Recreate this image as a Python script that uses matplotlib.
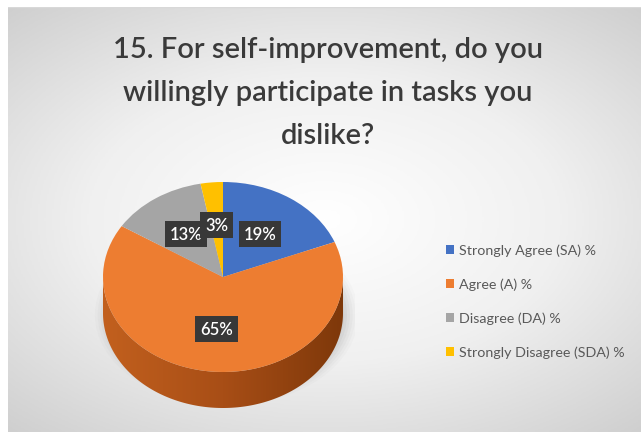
import numpy as np
import matplotlib
matplotlib.use("Agg")
import matplotlib.pyplot as plt
from matplotlib.colors import LinearSegmentedColormap
from matplotlib.patches import Polygon, Ellipse

# Survey answers, in percent
categories = ["Strongly Agree (SA) %", "Agree (A) %", "Disagree (DA) %", "Strongly Disagree (SDA) %"]
values = [19, 65, 13, 3]
colors = ["#4472C4", "#ED7D31", "#A5A5A5", "#FFC000"]
title_lines = ["15. For self-improvement, do you",
               "willingly participate in tasks you",
               "dislike?"]

W, H = 641, 439
fig = plt.figure(figsize=(W / 100, H / 100), dpi=100)
fig.patch.set_facecolor("white")

# Background panel with a soft radial gradient
bg = fig.add_axes([8 / W, 6 / H, (W - 8) / W, (H - 14) / H])
bg.set_axis_off()
yy, xx = np.mgrid[-1:1:300j, -1:1:400j]
r = np.sqrt((xx * 0.9) ** 2 + (yy * 1.0) ** 2)
bg_cmap = LinearSegmentedColormap.from_list("bg", ["#ffffff", "#f0f0f0", "#cfcfcf"])
bg.imshow(r, cmap=bg_cmap, aspect="auto", extent=[0, 1, 0, 1], vmin=0, vmax=1.35)
bg.plot([0, 1], [1, 1], color="#d8d8d8", lw=1, transform=bg.transAxes)

# Title, one line per baseline
for i, line in enumerate(title_lines):
    fig.text(328 / W, 1 - (58 + 43 * i) / H, line, ha="center", va="baseline",
             fontsize=21, family="Lato", fontweight="semibold", color="#3a3a3a")

# Pie axes: unit circle stretched into an ellipse, with an extruded rim
rx, ry, depth = 120, 95, 36
cx, cy = 223, 278
x0, x1 = -1.1, 1.1
y0, y1 = -1.0 - depth / ry - 0.15, 1.05
ax = fig.add_axes([(cx + x0 * rx) / W, (H - cy + y0 * ry) / H,
                   (x1 - x0) * rx / W, (y1 - y0) * ry / H])
ax.set_axis_off()

wedges, _ = ax.pie(values, colors=colors, startangle=90, counterclock=False,
                   radius=1, wedgeprops=dict(linewidth=0))
ax.set_aspect("auto")
ax.set_xlim(x0, x1)
ax.set_ylim(y0, y1)

d = depth / ry
# soft shadow under the pie
for k, a in zip(np.linspace(1.12, 1.0, 6), [0.03, 0.04, 0.05, 0.06, 0.07, 0.08]):
    ax.add_patch(Ellipse((0.03, -d - 0.02), 2 * k * 0.98, 2 * k * 0.85,
                         facecolor="#7a7a7a", edgecolor="none", alpha=a, zorder=0.2))

# rim of the front half (all within the largest slice)
t = np.linspace(np.pi, 2 * np.pi, 200)
top = np.column_stack([np.cos(t), np.sin(t)])
bot = np.column_stack([np.cos(t[::-1]), np.sin(t[::-1]) - d])
rim = Polygon(np.vstack([top, bot]), closed=True, facecolor="none", edgecolor="none")
ax.add_patch(rim)
gx = np.linspace(0, 1, 256).reshape(1, -1)
rim_cmap = LinearSegmentedColormap.from_list("rim", ["#c2601e", "#a84e16", "#7e380a"])
im = ax.imshow(gx, cmap=rim_cmap, extent=[-1, 1, -1 - d, 0], aspect="auto", zorder=0.5)
im.set_clip_path(rim)
for w in wedges:
    w.set_zorder(2)

# percentage labels in dark boxes
for w, v in zip(wedges, values):
    mid = np.deg2rad((w.theta1 + w.theta2) / 2)
    lx, ly = 0.55 * np.cos(mid), 0.55 * np.sin(mid)
    ax.text(lx, ly, f"{v}%", ha="center", va="center", fontsize=12, color="white",
            family="Lato", fontweight="semibold", zorder=6 if v < 5 else 5,
            bbox=dict(boxstyle="square,pad=0.3", facecolor="#383838", edgecolor="none"))

fig.legend(wedges, categories, loc="upper left", bbox_to_anchor=(433 / W, 1 - 232 / H),
           frameon=False, labelspacing=1.5, handlelength=0.6,
           handleheight=0.6, handletextpad=0.3, labelcolor="#595959",
           prop=dict(family="Lato", size=10.3))

fig.savefig("out.png", dpi=100)
